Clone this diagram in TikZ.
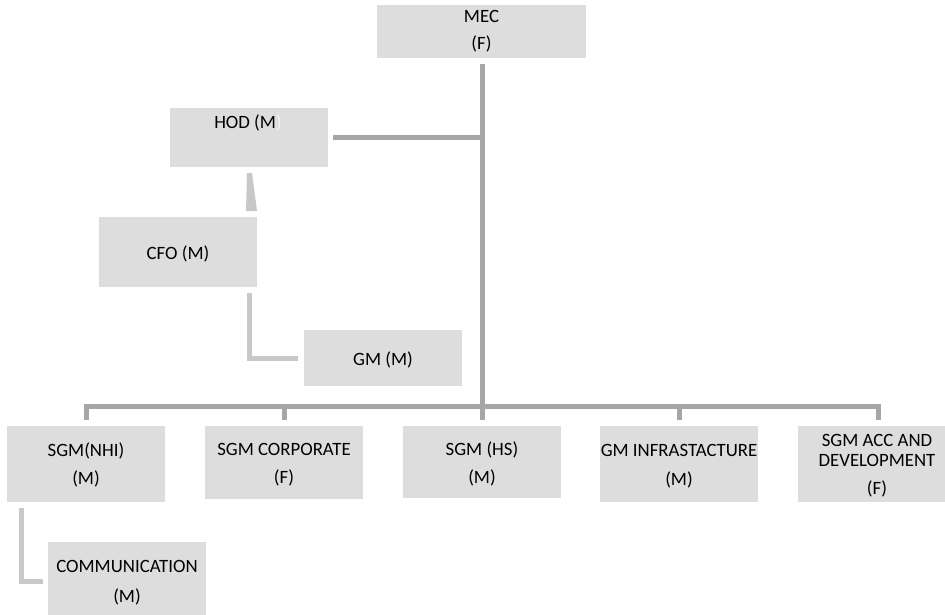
\documentclass[tikz,border=0pt]{standalone}
\usepackage{fontspec}
\setmainfont{Carlito}
\definecolor{boxfill}{HTML}{DDDDDD}
\definecolor{trunkc}{HTML}{A6A6A6}
\definecolor{sidec}{HTML}{C8C8C8}
\definecolor{faint}{HTML}{F2F2F2}
\begin{document}
\begin{tikzpicture}[x=1pt,y=-1pt,
  box/.style={fill=boxfill,draw=none,outer sep=0pt,inner sep=0pt,anchor=north west},
  txt/.style={anchor=base,inner sep=0pt,font=\fontsize{18.8}{22}\selectfont,text=black},
  trunk/.style={draw=trunkc,line width=5pt},
  side/.style={draw=sidec,line width=5pt}]
\useasboundingbox (0,0) rectangle (945,615);
% boxes
\node[box,minimum width=209pt,minimum height=53pt] (mec) at (377,5) {};
\node[box,minimum width=158pt,minimum height=59pt] (hod) at (170,108) {};
\node[box,minimum width=158pt,minimum height=70pt] (cfo) at (99,217) {};
\node[box,minimum width=158pt,minimum height=56pt] (gm) at (304,330) {};
\node[box,minimum width=158pt,minimum height=76pt] (nhi) at (7,426) {};
\node[box,minimum width=158pt,minimum height=73pt] (corp) at (205,426) {};
\node[box,minimum width=158pt,minimum height=72pt] (hs) at (403,426) {};
\node[box,minimum width=158pt,minimum height=76pt] (infra) at (600,426) {};
\node[box,minimum width=147pt,minimum height=76pt] (acc) at (798,426) {};
\node[box,minimum width=158pt,minimum height=73pt] (comm) at (48,542) {};
% texts
\node[txt] (t-mec1) at (481.5,23) {MEC};
\node[txt] (t-mec2) at (481.5,50) {(F)};
\node[txt] (t-hod) at (248,129) {HOD (M\textcolor{faint}{)}};
\node[txt] (t-cfo) at (178,259) {CFO (M)};
\node[txt] (t-gm) at (383,365) {GM (M)};
\node[txt] (t-nhi1) at (86,456) {SGM(NHI)};
\node[txt] (t-nhi2) at (86,484) {(M)};
\node[txt] (t-corp1) at (284,455) {SGM CORPORATE};
\node[txt] (t-corp2) at (284,483) {(F)};
\node[txt] (t-hs1) at (482,455) {SGM (HS)};
\node[txt] (t-hs2) at (482,483) {(M)};
\node[txt] (t-inf1) at (679,456) {GM INFRASTACTURE};
\node[txt] (t-inf2) at (679,485) {(M)};
\node[txt] (t-acc1) at (877,446) {SGM ACC AND};
\node[txt] (t-acc2) at (877,466) {DEVELOPMENT};
\node[txt] (t-acc3) at (877,494) {(F)};
\node[txt] (t-com1) at (127,572) {COMMUNICATION};
\node[txt] (t-com2) at (127,602) {(M)};
% connector points
\coordinate (ttop) at (482,64);
\coordinate (tbot) at (482,420);
\coordinate (hodj) at (482,138);
\coordinate (hodr) at (333,138);
% trunk and bus
\draw[trunk] (ttop) -- (tbot);
\draw[trunk] (hodr) -- (hodj);
\draw[trunk,line join=miter] (86,420) -- (86,406) -- (878,406) -- (878,420);
\draw[trunk] (284,406) -- (284,420);
\draw[trunk] (679,406) -- (679,420);
% side connectors
\fill[sidec] (247,173) -- (252,173) -- (257,211) -- (246,211) -- cycle;
\draw[side,line join=miter] (249,293) -- (249,358) -- (298,358);
\draw[side,line join=miter] (21,508) -- (21,581) -- (43,581);
\end{tikzpicture}
\end{document}
